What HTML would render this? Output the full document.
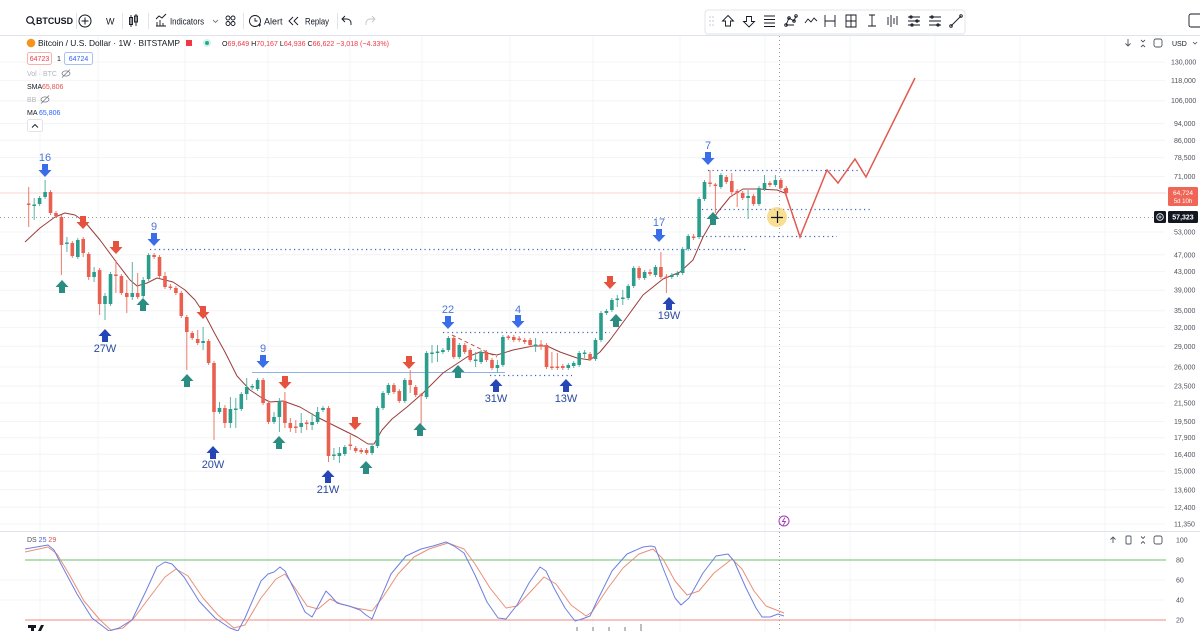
<!DOCTYPE html>
<html><head><meta charset="utf-8"><style>
html,body{margin:0;padding:0;background:#fff;}
body{width:1200px;height:631px;overflow:hidden;position:relative;font-family:"Liberation Sans",Arial,sans-serif;}
svg{position:absolute;left:0;top:0;}
text{font-family:"Liberation Sans",Arial,sans-serif;}
</style></head><body>
<svg width="1200" height="631" viewBox="0 0 1200 631" xmlns="http://www.w3.org/2000/svg">
<defs>
<path id="dn" d="M-3,-7H3V-1H6.5L0,6L-6.5,-1H-3Z"/>
<path id="up" d="M-3,7H3V1H6.5L0,-6L-6.5,1H-3Z"/>
</defs>
<rect width="1200" height="631" fill="#fff"/>
<!-- grid -->
<g stroke="#f3f4f6" stroke-width="1">
<path d="M0,62H1165M0,80.4H1165M0,100.7H1165M0,123.5H1165M0,140.3H1165M0,157.6H1165M0,176.6H1165M0,232H1165M0,254.8H1165M0,271.6H1165M0,290.2H1165M0,310.7H1165M0,327.6H1165M0,346.3H1165M0,367H1165M0,386.1H1165M0,403H1165M0,421.5H1165M0,437.7H1165M0,454.3H1165M0,471.2H1165M0,489.8H1165M0,507.3H1165M0,524H1165M0,580H1165M0,600H1165"/>
<path d="M40,36V631M98,36V631M185,36V631M268,36V631M350,36V631M422,36V631M510,36V631M593,36V631M680,36V631M765,36V631M850,36V631M935,36V631M1020,36V631M1105,36V631"/>
</g>
<!-- top toolbar -->
<line x1="0" y1="35.5" x2="1200" y2="35.5" stroke="#e0e3eb"/>
<circle cx="30" cy="20" r="3.3" fill="none" stroke="#131722" stroke-width="1.2"/>
<line x1="32.4" y1="22.4" x2="35" y2="25" stroke="#131722" stroke-width="1.3"/>
<text x="36" y="24" font-size="9.5" font-weight="bold" fill="#131722" textLength="37" lengthAdjust="spacingAndGlyphs">BTCUSD</text>
<line x1="76.5" y1="13" x2="76.5" y2="29" stroke="#e0e3eb"/>
<circle cx="85" cy="21" r="6" fill="none" stroke="#131722" stroke-width="1"/>
<path d="M85,17.5V24.5M81.5,21H88.5" stroke="#131722" stroke-width="1"/>
<text x="106" y="24.5" font-size="9" fill="#131722">W</text>
<line x1="122.5" y1="13" x2="122.5" y2="29" stroke="#e0e3eb"/>
<path d="M131,15V27M129.5,17.5h3v7h-3zM136,14V26M134.5,16h3v6h-3z" stroke="#131722" stroke-width="0.9" fill="none"/>
<line x1="148.5" y1="13" x2="148.5" y2="29" stroke="#e0e3eb"/>
<path d="M156,26h10M157,26v-4M160,26v-6M163,26v-3M156,19l3-3 3,2 4-4" stroke="#131722" stroke-width="0.9" fill="none"/>
<text x="170" y="24.5" font-size="9" fill="#131722" textLength="34" lengthAdjust="spacingAndGlyphs">Indicators</text>
<path d="M213,20l2.5,2.5 2.5-2.5" stroke="#787b86" stroke-width="0.9" fill="none"/>
<g fill="none" stroke="#131722" stroke-width="0.9"><circle cx="228" cy="18" r="2"/><circle cx="233" cy="18" r="2"/><circle cx="228" cy="23.5" r="2"/><circle cx="233" cy="23.5" r="2"/></g>
<line x1="243.5" y1="13" x2="243.5" y2="29" stroke="#e0e3eb"/>
<circle cx="255" cy="21" r="5.5" fill="none" stroke="#131722" stroke-width="0.9"/>
<path d="M255,18v3h2.5M258,25h3M259.5,23.5v3" stroke="#131722" stroke-width="0.9" fill="none"/>
<text x="264" y="24.5" font-size="9" fill="#131722">Alert</text>
<path d="M293,17l-4,4 4,4M298,17l-4,4 4,4" stroke="#131722" stroke-width="0.9" fill="none"/>
<text x="305" y="24.5" font-size="9" fill="#131722" textLength="24" lengthAdjust="spacingAndGlyphs">Replay</text>
<line x1="337.5" y1="13" x2="337.5" y2="29" stroke="#e0e3eb"/>
<path d="M351,25v-2a4,4 0 0 0-4-4h-5M345,16l-3,3 3,3" stroke="#131722" stroke-width="0.9" fill="none"/>
<path d="M366,25v-2a4,4 0 0 1 4-4h5M372,16l3,3-3,3" stroke="#c1c4cd" stroke-width="0.9" fill="none"/>
<!-- floating toolbar -->
<rect x="705" y="10" width="260" height="24" rx="3" fill="#fff" stroke="#e3e5ea"/>
<rect x="706" y="33" width="258" height="2" fill="#eef0f3"/>
<g fill="#c1c4cd"><circle cx="710" cy="17" r="0.8"/><circle cx="713" cy="17" r="0.8"/><circle cx="710" cy="21" r="0.8"/><circle cx="713" cy="21" r="0.8"/><circle cx="710" cy="25" r="0.8"/><circle cx="713" cy="25" r="0.8"/></g>
<g fill="none" stroke="#131722" stroke-width="0.9">
<path d="M728,15.5l5.5,5.5h-3v5h-5v-5h-3z"/>
<path d="M749,27l5.5-5.5h-3v-5h-5v5h-3z"/>
<path d="M764,16h11M764,19.5h11M764,23h11M764,26.5h11"/>
<path d="M786,25l3-7 5,3 2-5M786,25h8"/><circle cx="786" cy="25" r="1.3"/><circle cx="789" cy="18" r="1.3"/><circle cx="794" cy="21" r="1.3"/><circle cx="796" cy="16" r="1.3"/>
<path d="M805,23l3-4 3,3 3-4 3,3"/>
<path d="M825,15v12M835,15v12M825,21h10"/>
<path d="M846,15h10v12h-10zM851,15v12M846,21h10"/>
<path d="M872,15v11M868,26h8M869,15h6"/>
<path d="M888,17v8M891,15v12M894,18v6M897,16v9"/>
<path d="M908,17h12M908,21h12M908,25h12"/><circle cx="911" cy="17" r="1.2"/><circle cx="917" cy="21" r="1.2"/><circle cx="912" cy="25" r="1.2"/>
<path d="M929,17h12M929,21h12M929,25h12"/><circle cx="932" cy="17" r="1.2"/><circle cx="938" cy="25" r="1.2"/>
<path d="M951,26l10-10"/><circle cx="951" cy="26" r="1.3"/><circle cx="961" cy="16" r="1.3"/>
</g>
<rect x="1189" y="14" width="14" height="13" rx="2" fill="none" stroke="#131722" stroke-width="0.9"/>
<!-- legend -->
<circle cx="31" cy="43" r="4.3" fill="#f7931a"/>
<text x="38" y="46" font-size="8.5" fill="#131722" textLength="142" lengthAdjust="spacingAndGlyphs">Bitcoin / U.S. Dollar · 1W · BITSTAMP</text>
<rect x="186" y="40" width="6" height="6" fill="#f23645"/>
<circle cx="207" cy="43" r="4" fill="#d7f0ec"/><circle cx="207" cy="43" r="2" fill="#22ab94"/>
<text x="222" y="46" font-size="7.5" fill="#f23645" textLength="167" lengthAdjust="spacingAndGlyphs"><tspan fill="#131722">O</tspan>69,649 <tspan fill="#131722">H</tspan>70,167 <tspan fill="#131722">L</tspan>64,936 <tspan fill="#131722">C</tspan>66,622 −3,018 (−4.33%)</text>
<rect x="27.5" y="52.5" width="24" height="12" rx="2" fill="#fff" stroke="#f6b2ad"/>
<text x="39.5" y="61" font-size="7" fill="#f23645" text-anchor="middle">64723</text>
<text x="59" y="61" font-size="7" fill="#131722" text-anchor="middle">1</text>
<rect x="64.5" y="52.5" width="28" height="12" rx="2" fill="#fff" stroke="#a9c0f5"/>
<text x="78.5" y="61" font-size="7" fill="#2962ff" text-anchor="middle">64724</text>
<text x="27" y="76" font-size="7" fill="#b2b5be">Vol · BTC</text>
<g fill="none" stroke="#787b86" stroke-width="0.8"><ellipse cx="66" cy="73.5" rx="4" ry="2.6"/><path d="M62,77.5l8-8"/></g>
<text x="27" y="89" font-size="7" fill="#131722">SMA</text>
<text x="42" y="89" font-size="7" fill="#e0504a">65,806</text>
<text x="27" y="102" font-size="7" fill="#b2b5be">BB</text>
<g fill="none" stroke="#787b86" stroke-width="0.8"><ellipse cx="45" cy="99.5" rx="4" ry="2.6"/><path d="M41,103.5l8-8"/></g>
<text x="27" y="115" font-size="7" fill="#131722">MA</text>
<text x="39" y="115" font-size="7" fill="#2962ff">65,806</text>
<rect x="27.5" y="119.5" width="15" height="12" rx="2" fill="#fff" stroke="#e0e3eb"/>
<path d="M32,127.5l3-3 3,3" fill="none" stroke="#131722" stroke-width="0.9"/>
<!-- right header icons -->
<g fill="none" stroke="#50535e" stroke-width="0.9">
<path d="M1128,39v7M1125.5,43.5l2.5,2.5 2.5-2.5"/>
<path d="M1141,40l2,2 2-2M1141,47l2-2 2,2"/>
<rect x="1154" y="39" width="8" height="8" rx="2"/>
</g>
<text x="1172" y="46" font-size="7" fill="#131722">USD</text>
<path d="M1193,42l2,2 2-2" fill="none" stroke="#50535e" stroke-width="0.8"/>
<!-- price axis labels -->
<g font-size="7" fill="#50535e">
<text x="1171" y="64.5">130,000</text>
<text x="1171" y="83">118,000</text>
<text x="1171" y="103">106,000</text>
<text x="1174" y="126">94,000</text>
<text x="1174" y="142.8">86,000</text>
<text x="1174" y="160">78,500</text>
<text x="1174" y="179">71,000</text>
<text x="1174" y="234.5">53,000</text>
<text x="1174" y="257.3">47,000</text>
<text x="1174" y="274">43,000</text>
<text x="1174" y="292.7">39,000</text>
<text x="1174" y="313.2">35,000</text>
<text x="1174" y="330">32,000</text>
<text x="1174" y="348.8">29,000</text>
<text x="1174" y="369.5">26,000</text>
<text x="1174" y="388.6">23,500</text>
<text x="1174" y="405.5">21,500</text>
<text x="1174" y="424">19,500</text>
<text x="1174" y="440.2">17,900</text>
<text x="1174" y="456.8">16,400</text>
<text x="1174" y="473.7">15,000</text>
<text x="1174" y="492.3">13,600</text>
<text x="1174" y="509.8">12,400</text>
<text x="1174" y="526.5">11,350</text>
</g>
<!-- current price line -->
<line x1="0" y1="193" x2="1166" y2="193" stroke="#f7d6d3" stroke-width="1"/>
<!-- crosshair -->
<line x1="779.5" y1="36" x2="779.5" y2="631" stroke="#9598a1" stroke-width="1" stroke-dasharray="1,3"/>
<line x1="0" y1="217.5" x2="1155" y2="217.5" stroke="#9598a1" stroke-width="1" stroke-dasharray="1,3"/>
<!-- horizontal levels -->
<g stroke="#3d63c9" stroke-width="1.2" stroke-dasharray="1.2,3.3" fill="none">
<path d="M150,249.5H748"/>
<path d="M443,332.5H610"/>
<path d="M490,375.5H572"/>
<path d="M708,170.5H866"/>
<path d="M702,209.5H871"/>
<path d="M697,236.5H837"/>
</g>
<line x1="252" y1="372.5" x2="505" y2="372.5" stroke="#8fb0e8" stroke-width="1"/>
<path d="M452,335L497,357" stroke="#c0504a" stroke-width="1" stroke-dasharray="4,3" fill="none"/>
<!-- MA -->
<polyline fill="none" stroke="#9b3d3a" stroke-width="1" stroke-linejoin="round" points="25,242 40,228 55,217 65,213 75,215 85,222 100,240 117,263 130,280 137,286 147,283 157,278 165,280 173,282 185,290 195,300 205,315 215,334 225,352 237,376 250,390 262,398 270,402 283,401 300,407 317,417 337,427 357,437 368,444 374,444 382,430 392,419 407,407 423,393 443,373 467,357 480,352 497,355 513,350 533,346 547,346 560,352 577,358 590,360 600,352 610,340 627,317 643,295 663,279 680,272 693,260 703,237 717,213 730,197 743,189 757,189 777,190 785,193"/>
<!-- wicks -->
<path stroke="#ec7a6d" stroke-width="1" fill="none" d="M28.7 187V227M50.5 190V215M56 211V218M61.4 215V275M72.3 241V258M83.2 237V257M88.7 252V280M99.6 268V315M115.9 260V293M121.4 274V295M126.8 280V313M137.7 273V299M154.1 253V259M159.5 255V278M165 272V289M170.4 284V290M175.9 286V295M181.3 291V318M186.8 315V370M192.2 331V340M197.7 330V345M208.6 339V365M214 361V440M224.9 405V428M263.1 378V405M268.5 401V424M284.9 392V428M290.3 418V432M295.8 420V433M306.7 420V430M328.5 406V462M350.3 435V450M355.7 446V453M361.2 448V454M366.6 448V455M393.9 383V394M399.3 389V403M410.2 370V393M415.7 385V397M421.1 393V427M453.8 336V359M464.7 343V354M470.2 348V362M486.5 350V362M492 358V370M508.3 335V340M513.8 335V342M519.2 336V342M524.7 338V344M530.1 338V347M541 340V350M546.5 343V369M551.9 352V370M557.4 353V370M562.8 364V370M590.1 352V361M639.1 266V280M650 269V276M660.9 252V279M666.4 274V293M693.6 234V240M710 170V187M715.4 183V213M726.3 175V184M731.8 173V197M737.2 189V207M742.7 191V200M753.6 194V206M769.9 181V187M780.8 178V190M786.3 186V195"/>
<path stroke="#5bb3a7" stroke-width="1" fill="none" d="M34.2 198V220M39.6 196V206M45.1 180V199M66.9 237V252M77.8 238V259M94.1 267V282M105 293V320M110.5 272V306M132.3 262V300M143.2 277V298M148.6 253V281M203.1 327V350M219.5 402V414M230.4 397V428M235.8 398V428M241.3 392V411M246.7 378V400M252.2 384V390M257.6 378V391M274 412V424M279.4 398V432M301.2 413V433M312.1 413V430M317.6 407V424M323 406V412M333.9 448V460M339.4 447V463M344.8 445V456M372.1 444V455M377.5 406V448M383 391V410M388.4 383V395M404.8 378V403M426.6 351V399M432 345V363M437.5 345V362M442.9 348V354M448.4 336V352M459.3 343V359M475.6 352V367M481.1 350V364M497.4 360V373M502.9 335V367M535.6 338V352M568.3 363V370M573.7 361V368M579.2 351V367M584.6 350V358M595.5 338V361M601 311V342M606.4 309V315M611.9 298V312M617.3 295V307M622.8 290V305M628.2 284V300M633.7 266V288M644.6 270V280M655.5 265V277M671.8 273V279M677.3 271V277M682.7 247V275M688.2 234V251M699.1 197V239M704.5 180V201M720.9 173V189M748.1 190V219M759 186V206M764.5 175V191M775.4 175V187"/>
<!-- red bodies -->
<g fill="#e8604f">
<rect x="26.9" y="203.5" width="3.6" height="1.5"/><rect x="48.7" y="192" width="3.6" height="21"/><rect x="54.2" y="213" width="3.6" height="3"/><rect x="59.6" y="217" width="3.6" height="28"/><rect x="70.5" y="243" width="3.6" height="13"/><rect x="81.4" y="239" width="3.6" height="14"/><rect x="86.9" y="254" width="3.6" height="23"/><rect x="97.8" y="270" width="3.6" height="34"/><rect x="114.1" y="274.5" width="3.6" height="1.5"/><rect x="119.6" y="276" width="3.6" height="17"/><rect x="125" y="293" width="3.6" height="4"/><rect x="135.9" y="293" width="3.6" height="4"/><rect x="152.3" y="255" width="3.6" height="2"/><rect x="157.7" y="257" width="3.6" height="19"/><rect x="163.2" y="276" width="3.6" height="11"/><rect x="168.6" y="286.5" width="3.6" height="1.5"/><rect x="174.1" y="288" width="3.6" height="5"/><rect x="179.5" y="293" width="3.6" height="23"/><rect x="185" y="317" width="3.6" height="15"/><rect x="190.4" y="333" width="3.6" height="5"/><rect x="195.9" y="339" width="3.6" height="4"/><rect x="206.8" y="341" width="3.6" height="22"/><rect x="212.2" y="363" width="3.6" height="49"/><rect x="223.1" y="408" width="3.6" height="15"/><rect x="261.3" y="380" width="3.6" height="23"/><rect x="266.7" y="403" width="3.6" height="19"/><rect x="283.1" y="401" width="3.6" height="22"/><rect x="288.5" y="423" width="3.6" height="5"/><rect x="294" y="426.5" width="3.6" height="1.5"/><rect x="304.9" y="422.5" width="3.6" height="1.5"/><rect x="326.7" y="408" width="3.6" height="48"/><rect x="348.5" y="444.5" width="3.6" height="1.5"/><rect x="353.9" y="448" width="3.6" height="3"/><rect x="359.4" y="450" width="3.6" height="2"/><rect x="364.8" y="450" width="3.6" height="3"/><rect x="392.1" y="385" width="3.6" height="7"/><rect x="397.5" y="391" width="3.6" height="10"/><rect x="408.4" y="380" width="3.6" height="5"/><rect x="413.9" y="387" width="3.6" height="8"/><rect x="419.3" y="394.5" width="3.6" height="1.5"/><rect x="452" y="338" width="3.6" height="19"/><rect x="462.9" y="345" width="3.6" height="7"/><rect x="468.4" y="350" width="3.6" height="10"/><rect x="484.7" y="352" width="3.6" height="8"/><rect x="490.2" y="360" width="3.6" height="8"/><rect x="506.5" y="336.5" width="3.6" height="1.5"/><rect x="512" y="337" width="3.6" height="3"/><rect x="517.4" y="338.5" width="3.6" height="1.5"/><rect x="522.9" y="340" width="3.6" height="2"/><rect x="528.3" y="340" width="3.6" height="5"/><rect x="539.2" y="344.5" width="3.6" height="1.5"/><rect x="544.7" y="345" width="3.6" height="22"/><rect x="550.1" y="366.5" width="3.6" height="1.5"/><rect x="555.6" y="366.5" width="3.6" height="1.5"/><rect x="561" y="366" width="3.6" height="2"/><rect x="588.3" y="354" width="3.6" height="5"/><rect x="637.3" y="268" width="3.6" height="10"/><rect x="648.2" y="272" width="3.6" height="2"/><rect x="659.1" y="267" width="3.6" height="10"/><rect x="664.6" y="276.5" width="3.6" height="1.5"/><rect x="691.8" y="236.5" width="3.6" height="1.5"/><rect x="708.2" y="182.5" width="3.6" height="1.5"/><rect x="713.6" y="184.5" width="3.6" height="1.5"/><rect x="724.5" y="177" width="3.6" height="5"/><rect x="730" y="181" width="3.6" height="11"/><rect x="735.4" y="191" width="3.6" height="2"/><rect x="740.9" y="193" width="3.6" height="5"/><rect x="751.8" y="196" width="3.6" height="8"/><rect x="768.1" y="183" width="3.6" height="2"/><rect x="779" y="180" width="3.6" height="8"/><rect x="784.5" y="188" width="3.6" height="5"/>
</g>
<!-- green bodies -->
<g fill="#2a9d8c">
<rect x="32.4" y="204.5" width="3.6" height="1.5"/><rect x="37.8" y="198" width="3.6" height="6"/><rect x="43.3" y="192" width="3.6" height="5"/><rect x="65.1" y="242.5" width="3.6" height="1.5"/><rect x="76" y="240" width="3.6" height="17"/><rect x="92.3" y="272" width="3.6" height="5"/><rect x="103.2" y="296" width="3.6" height="8"/><rect x="108.7" y="274" width="3.6" height="30"/><rect x="130.5" y="293" width="3.6" height="4"/><rect x="141.4" y="280" width="3.6" height="16"/><rect x="146.8" y="255" width="3.6" height="24"/><rect x="201.3" y="341" width="3.6" height="2"/><rect x="217.7" y="408" width="3.6" height="4"/><rect x="228.6" y="409" width="3.6" height="14"/><rect x="234" y="408.5" width="3.6" height="1.5"/><rect x="239.5" y="394" width="3.6" height="15"/><rect x="244.9" y="387" width="3.6" height="7"/><rect x="250.4" y="386" width="3.6" height="1.5"/><rect x="255.8" y="380" width="3.6" height="9"/><rect x="272.2" y="417" width="3.6" height="5"/><rect x="277.6" y="401" width="3.6" height="16"/><rect x="299.4" y="423" width="3.6" height="4"/><rect x="310.3" y="422" width="3.6" height="3"/><rect x="315.8" y="412" width="3.6" height="10"/><rect x="321.2" y="408" width="3.6" height="2"/><rect x="332.1" y="454.5" width="3.6" height="1.5"/><rect x="337.6" y="453" width="3.6" height="3"/><rect x="343" y="447" width="3.6" height="7"/><rect x="370.3" y="446" width="3.6" height="7"/><rect x="375.7" y="408" width="3.6" height="38"/><rect x="381.2" y="393" width="3.6" height="15"/><rect x="386.6" y="385" width="3.6" height="8"/><rect x="403" y="380" width="3.6" height="21"/><rect x="424.8" y="353" width="3.6" height="44"/><rect x="430.2" y="352.5" width="3.6" height="1.5"/><rect x="435.7" y="351.5" width="3.6" height="1.5"/><rect x="441.1" y="350" width="3.6" height="2"/><rect x="446.6" y="338" width="3.6" height="12"/><rect x="457.5" y="345" width="3.6" height="12"/><rect x="473.8" y="359.5" width="3.6" height="1.5"/><rect x="479.3" y="352" width="3.6" height="10"/><rect x="495.6" y="365" width="3.6" height="3"/><rect x="501.1" y="337" width="3.6" height="28"/><rect x="533.8" y="344.5" width="3.6" height="1.5"/><rect x="566.5" y="365" width="3.6" height="3"/><rect x="571.9" y="363" width="3.6" height="3"/><rect x="577.4" y="353" width="3.6" height="12"/><rect x="582.8" y="352.5" width="3.6" height="1.5"/><rect x="593.7" y="340" width="3.6" height="19"/><rect x="599.2" y="313" width="3.6" height="27"/><rect x="604.6" y="311" width="3.6" height="2"/><rect x="610.1" y="300" width="3.6" height="10"/><rect x="615.5" y="298.5" width="3.6" height="1.5"/><rect x="621" y="297.5" width="3.6" height="1.5"/><rect x="626.4" y="286" width="3.6" height="12"/><rect x="631.9" y="268" width="3.6" height="18"/><rect x="642.8" y="272" width="3.6" height="6"/><rect x="653.7" y="267" width="3.6" height="8"/><rect x="670" y="275" width="3.6" height="2"/><rect x="675.5" y="273" width="3.6" height="2"/><rect x="680.9" y="249" width="3.6" height="24"/><rect x="686.4" y="236" width="3.6" height="13"/><rect x="697.3" y="199" width="3.6" height="38"/><rect x="702.7" y="182" width="3.6" height="17"/><rect x="719.1" y="175" width="3.6" height="12"/><rect x="746.3" y="196" width="3.6" height="2"/><rect x="757.2" y="188" width="3.6" height="16"/><rect x="762.7" y="183" width="3.6" height="6"/><rect x="773.6" y="180" width="3.6" height="5"/>
</g>
<!-- projection -->
<polyline fill="none" stroke="#e05a50" stroke-width="1.5" stroke-linejoin="miter" points="784,189 800,237 827,170 838,183 855,159 866,177 915,78"/>
<!-- arrows -->
<g fill="#3a6ee8">
<use href="#dn" x="45" y="171"/><use href="#dn" x="154" y="240"/><use href="#dn" x="263" y="362"/><use href="#dn" x="448" y="323"/><use href="#dn" x="518" y="322"/><use href="#dn" x="659" y="236"/><use href="#dn" x="708" y="159"/>
</g>
<g font-size="11" fill="#4a76d6" text-anchor="middle">
<text x="45" y="161">16</text><text x="154" y="230">9</text><text x="263" y="352">9</text><text x="448" y="313">22</text><text x="518" y="313">4</text><text x="659" y="226">17</text><text x="708" y="149">7</text>
</g>
<g fill="#2746b5">
<use href="#up" x="105" y="335"/><use href="#up" x="213" y="452"/><use href="#up" x="328" y="476"/><use href="#up" x="496" y="385"/><use href="#up" x="566" y="385"/><use href="#up" x="669" y="303"/>
</g>
<g font-size="11" fill="#2d4a9e" text-anchor="middle">
<text x="105" y="352">27W</text><text x="213" y="468">20W</text><text x="328" y="493">21W</text><text x="496" y="402">31W</text><text x="566" y="402">13W</text><text x="669" y="319">19W</text>
</g>
<g fill="#2b8c82">
<use href="#up" x="62" y="286"/><use href="#up" x="143" y="304"/><use href="#up" x="187" y="380"/><use href="#up" x="279" y="442"/><use href="#up" x="366" y="467"/><use href="#up" x="420" y="429"/><use href="#up" x="458" y="371"/><use href="#up" x="616" y="320"/><use href="#up" x="713" y="218"/>
</g>
<g fill="#e5533f">
<use href="#dn" x="83" y="223"/><use href="#dn" x="116" y="248"/><use href="#dn" x="203" y="313"/><use href="#dn" x="285" y="383"/><use href="#dn" x="355" y="424"/><use href="#dn" x="409" y="363"/><use href="#dn" x="610" y="283"/>
</g>
<!-- crosshair highlight -->
<circle cx="777" cy="217" r="10" fill="#f5d46e" opacity="0.75"/>
<path d="M771,217.5h12M777.5,211v12" stroke="#131722" stroke-width="1.2"/>
<!-- price boxes -->
<rect x="1168" y="187" width="30" height="19" rx="1.5" fill="#ef6657"/>
<text x="1183" y="195" font-size="6.5" fill="#fff" text-anchor="middle">64,724</text>
<text x="1183" y="203" font-size="6" fill="#fff" text-anchor="middle">5d 10h</text>
<rect x="1154" y="211" width="12" height="12" rx="1.5" fill="#131722"/>
<circle cx="1160" cy="217" r="3.3" fill="none" stroke="#fff" stroke-width="0.8"/>
<path d="M1160,215.3v3.4M1158.3,217h3.4" stroke="#fff" stroke-width="0.7"/>
<rect x="1168" y="211" width="30" height="12" rx="1.5" fill="#131722"/>
<text x="1183" y="219.5" font-size="7" font-weight="bold" fill="#fff" text-anchor="middle">57,323</text>
<!-- purple icon -->
<circle cx="784" cy="521" r="5" fill="#fff" stroke="#a23bb5" stroke-width="1"/>
<path d="M785,517.5l-2.5,4h3l-2.5,4" fill="none" stroke="#a23bb5" stroke-width="0.9"/>
<!-- oscillator pane -->
<line x1="0" y1="531.5" x2="1200" y2="531.5" stroke="#e0e3eb"/>
<text x="27" y="542" font-size="7" fill="#50535e">DS <tspan fill="#4a62d8">25</tspan> <tspan fill="#e0504a">29</tspan></text>
<line x1="25" y1="560" x2="1166" y2="560" stroke="#6cbf70" stroke-width="1"/>
<line x1="25" y1="620" x2="1166" y2="620" stroke="#f08a82" stroke-width="1"/>
<polyline fill="none" stroke="#e8907a" stroke-width="1" stroke-linejoin="round" points="25,552 48,547 57,554 69,574 84,601 100,620 111,630 123,628 134,618 149,598 165,577 176,569 188,576 203,598 218,615 234,628 245,625 261,598 276,579 285,574 295,588 307,606 318,609 330,599 341,604 356,608 372,611 383,597 398,574 414,557 429,549 448,543 464,549 475,564 490,588 506,608 517,606 533,589 544,577 556,584 571,605 586,616 592,612 608,588 623,568 639,554 653,549 663,559 675,581 687,595 699,591 714,573 732,559 742,569 754,591 766,606 784,613"/>
<polyline fill="none" stroke="#6f7fe0" stroke-width="1" stroke-linejoin="round" points="25,549 48,545 54,550 61,564 77,594 92,618 109,631 119,628 132,620 146,591 157,567 165,562 172,564 184,577 199,601 215,618 230,628 238,631 245,618 261,581 268,574 274,572 280,567 285,571 295,591 305,612 312,617 318,606 326,591 331,596 337,603 349,606 360,610 366,615 372,619 379,602 391,574 406,556 421,549 433,546 446,542 454,546 464,553 475,575 487,602 498,618 506,619 517,605 529,583 540,567 546,571 554,588 565,608 575,621 582,619 590,616 597,601 612,571 627,554 643,547 651,546 655,547 663,568 675,598 681,605 689,598 703,573 716,556 728,554 734,561 746,588 756,608 762,617 770,617 778,614 784,616"/>
<g font-size="7" fill="#50535e">
<text x="1176" y="542.5">100</text>
<text x="1176" y="562.5">80</text>
<text x="1176" y="582.5">60</text>
<text x="1176" y="602.5">40</text>
<text x="1176" y="622.5">20</text>
</g>
<g fill="none" stroke="#50535e" stroke-width="0.9">
<path d="M1113,543v-6M1110.5,539.5l2.5-2.5 2.5,2.5"/>
<rect x="1126" y="536" width="5" height="8" rx="1"/>
<path d="M1141,536.5l2,2 2-2M1141,543.5l2-2 2,2"/>
<rect x="1154" y="536" width="8" height="8" rx="2"/>
</g>
<!-- logo & bottom ticks -->
<rect x="28" y="625" width="8" height="3" fill="#131722"/>
<rect x="31" y="625" width="3" height="6" fill="#131722"/>
<path d="M38,631l3-6h3l-3,6z" fill="#131722"/>
<g stroke="#787b86" stroke-width="1"><path d="M577,627v4M593,627v4M609,627v4M625,627v4M641,624v7"/></g>
</svg>
</body></html>
